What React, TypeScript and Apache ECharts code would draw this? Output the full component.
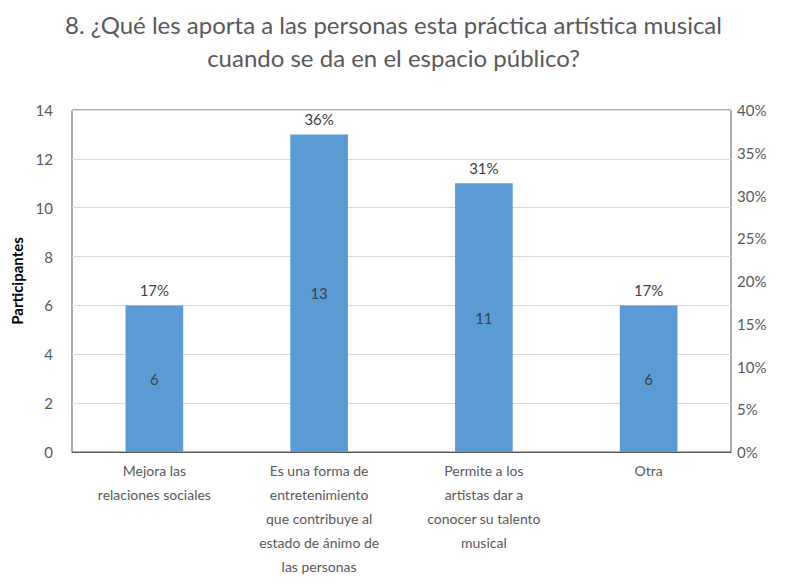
import React, { useEffect, useRef } from "react";
import * as echarts from "echarts";

const titleLines = [
  "8. ¿Qué les aporta a las personas esta práctica artística musical",
  "cuando se da en el espacio público?",
];
const categories = [
  "Mejora las\nrelaciones sociales",
  "Es una forma de\nentretenimiento\nque contribuye al\nestado de ánimo de\nlas personas",
  "Permite a los\nartistas dar a\nconocer su talento\nmusical",
  "Otra",
];
const participants = [6, 13, 11, 6];
const percentLabels = ["17%", "36%", "31%", "17%"];
const leftTicks = { min: 0, max: 14, interval: 2 };
const rightTicks = { min: 0, max: 0.4, interval: 0.05 };

const FONT = "Lato, 'Noto Sans', sans-serif";

export default function App() {
  const ref = useRef<HTMLDivElement>(null);
  useEffect(() => {
    if (!ref.current) return;
    const chart = echarts.init(ref.current, null, { renderer: "svg" });
    chart.setOption({
      animation: false,
      textStyle: { fontFamily: FONT },
      title: {
        text: titleLines.join("\n"),
        left: "center",
        top: 3,
        textStyle: {
          fontFamily: FONT,
          fontSize: 24,
          fontWeight: "normal",
          color: "#595959",
          lineHeight: 33,
        },
      },
      grid: {
        left: 72,
        right: 56,
        top: 110,
        bottom: 131,
        show: true,
        borderColor: "#595959",
        borderWidth: 1,
        backgroundColor: "transparent",
      },
      xAxis: {
        type: "category",
        data: categories,
        axisTick: { show: false },
        axisLine: { show: true, lineStyle: { color: "#595959", width: 1 } },
        axisLabel: {
          color: "#595959",
          fontFamily: FONT,
          fontSize: 14,
          lineHeight: 24,
          margin: 6,
          interval: 0,
        },
      },
      yAxis: [
        {
          type: "value",
          ...leftTicks,
          name: "Participantes",
          nameLocation: "middle",
          nameGap: 47,
          nameTextStyle: {
            color: "#000000",
            fontWeight: "bold",
            fontSize: 15,
            fontFamily: FONT,
          },
          axisLine: { show: false },
          axisTick: { show: false },
          axisLabel: { color: "#595959", fontSize: 15, fontFamily: FONT, margin: 19 },
          splitLine: { show: true, lineStyle: { color: "#d9d9d9", width: 1 } },
        },
        {
          type: "value",
          ...rightTicks,
          position: "right",
          axisLine: { show: false },
          axisTick: { show: false },
          splitLine: { show: false },
          axisLabel: {
            color: "#595959",
            fontSize: 15,
            fontFamily: FONT,
            margin: 6,
            formatter: (v: number) => `${Math.round(v * 100)}%`,
          },
        },
      ],
      series: [
        {
          type: "bar",
          data: participants,
          barWidth: "35%",
          itemStyle: { color: "#5b9bd5" },
          label: {
            show: true,
            position: "inside",
            color: "#404040",
            fontSize: 15,
            fontFamily: FONT,
          },
          z: 2,
        },
        {
          type: "bar",
          data: participants,
          barWidth: "35%",
          barGap: "-100%",
          itemStyle: { color: "transparent" },
          silent: true,
          label: {
            show: true,
            position: "top",
            distance: 8,
            color: "#404040",
            fontSize: 15,
            fontFamily: FONT,
            formatter: (p: any) => percentLabels[p.dataIndex],
          },
          z: 1,
        },
      ],
    });
    return () => chart.dispose();
  }, []);
  return <div ref={ref} style={{ width: 787, height: 583, margin: -8 }} />;
}
